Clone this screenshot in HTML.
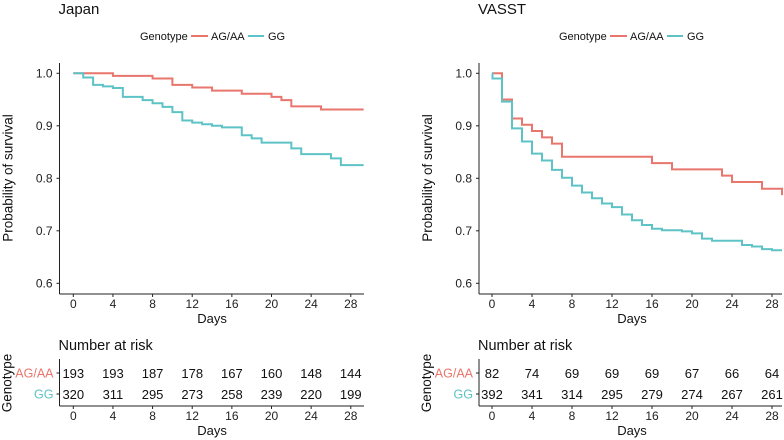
<!DOCTYPE html>
<html><head><meta charset="utf-8"><style>
html,body{margin:0;padding:0;background:#fff;}
svg{display:block;font-family:"Liberation Sans",Arial,sans-serif;}
</style></head><body>
<svg id="chart" width="784" height="440" viewBox="0 0 784 440" xmlns="http://www.w3.org/2000/svg"></svg>
<script>
const ticks = [0,4,8,12,16,20,24,28];
const yTicks = [0.6,0.7,0.8,0.9,1.0];
const yTickLabels = ["0.6","0.7","0.8","0.9","1.0"];
const groups = ["AG/AA","GG"];
const japanAgTimes = [0,4,8,10,12,14,17,20,21,22,25,29.3];
const japanAgSurv  = [1.0,0.995,0.990,0.978,0.973,0.967,0.961,0.955,0.949,0.937,0.931,0.931];
const japanGgTimes = [0,1,2,3,4,5,7,8,9,10,11,12,13,14,15,17,18,19,22,23,26,27,29.3];
const japanGgSurv  = [1.0,0.992,0.978,0.975,0.972,0.955,0.949,0.943,0.936,0.926,0.910,0.906,0.903,0.900,0.897,0.882,0.876,0.868,0.857,0.846,0.838,0.825,0.825];
const vasstAgTimes = [0,1,2,3,4,5,6,7,16,18,23,24,27,29,29];
const vasstAgSurv  = [1.0,0.950,0.914,0.902,0.890,0.878,0.866,0.841,0.829,0.817,0.805,0.793,0.780,0.768,0.768];
const vasstGgTimes = [0,0.05,1,2,3,4,5,6,7,8,9,10,11,12,13,14,15,16,17,19,20,21,22,25,26,27,28,29];
const vasstGgSurv  = [1.0,0.990,0.946,0.895,0.870,0.847,0.834,0.816,0.801,0.786,0.773,0.762,0.752,0.745,0.731,0.720,0.711,0.704,0.701,0.699,0.695,0.685,0.681,0.673,0.670,0.665,0.663,0.663];
const japanRiskAg = [193,193,187,178,167,160,148,144];
const japanRiskGg = [320,311,295,273,258,239,220,199];
const vasstRiskAg = [82,74,69,69,69,67,66,64];
const vasstRiskGg = [392,341,314,295,279,274,267,261];

const RED="#e8766d", TEAL="#5ec3c6";
const svg=document.getElementById('chart');
const NS="http://www.w3.org/2000/svg";
function mk(tag,attrs,parent,text){const e=document.createElementNS(NS,tag);for(const k in attrs)e.setAttribute(k,attrs[k]);if(text!==undefined)e.textContent=text;(parent||svg).appendChild(e);return e;}

function panel(ox,axisX,x0,pxPerDay,xEnd,title,legX,agT,agS,ggT,ggS,riskAg,riskGg,key){
  const g=mk('g',{},svg);
  
  
  const xs=d=>x0+d*pxPerDay;
  const ys=v=>73.3+(1-v)*525;
  const t=mk('text',{x:axisX-1,y:14,'font-size':15,fill:'#111'},g,title);
  
  
  const lg=mk('g',{},g);
  
  
  mk('text',{x:legX,y:40,'font-size':11,fill:'#111'},lg,'Genotype');
  const e1=mk('g',{},lg);
  
  
  mk('line',{x1:legX+51,x2:legX+68,y1:36,y2:36,stroke:RED,'stroke-width':2},e1);
  mk('text',{x:legX+71,y:40,'font-size':11,fill:'#111'},e1,'AG/AA');
  const e2=mk('g',{},lg);
  
  
  mk('line',{x1:legX+108,x2:legX+124,y1:36,y2:36,stroke:TEAL,'stroke-width':2},e2);
  mk('text',{x:legX+128,y:40,'font-size':11,fill:'#111'},e2,'GG');
  mk('line',{x1:axisX,x2:axisX,y1:63,y2:294,stroke:'#222','stroke-width':1},g);
  mk('line',{x1:axisX,x2:xEnd,y1:294,y2:294,stroke:'#222','stroke-width':1},g);
  yTicks.forEach((v,i)=>{
    mk('line',{x1:axisX-3,x2:axisX,y1:ys(v),y2:ys(v),stroke:'#222'},g);
    const tl=mk('text',{x:axisX-7,y:ys(v)+4,'font-size':12,'text-anchor':'end',fill:'#222'},g,yTickLabels[i]);
    
    
  });
  const yt=mk('text',{x:0,y:0,'font-size':13.5,'text-anchor':'middle',fill:'#111',transform:`translate(${axisX-47},178) rotate(-90)`},g,'Probability of survival');
  
  
  ticks.forEach(d=>{
    mk('line',{x1:xs(d),x2:xs(d),y1:294,y2:297,stroke:'#222'},g);
    mk('text',{x:xs(d),y:308,'font-size':12,'text-anchor':'middle',fill:'#222'},g,String(d));
  });
  const xt=mk('text',{x:xs(14),y:323,'font-size':13,'text-anchor':'middle',fill:'#111'},g,'Days');
  
  
  function curve(T,S,col,name){
    let d=`M${xs(T[0])},${ys(S[0])}`;
    for(let i=1;i<T.length;i++){d+=` H${xs(T[i])} V${ys(S[i])}`;}
    const p=mk('path',{d:d,fill:'none',stroke:col,'stroke-width':2},g);
    
    
  }
  curve(agT,agS,RED,key+'-agaa-curve');
  curve(ggT,ggS,TEAL,key+'-gg-curve');
  const rt=mk('text',{x:axisX-1,y:350,'font-size':14.5,fill:'#111'},g,'Number at risk');
  
  
  mk('line',{x1:axisX,x2:axisX,y1:359,y2:406,stroke:'#222'},g);
  mk('line',{x1:axisX,x2:xEnd,y1:406,y2:406,stroke:'#222'},g);
  const rowY=[373,394];
  const rowCol=[RED,TEAL];
  [riskAg,riskGg].forEach((row,r)=>{
    mk('line',{x1:axisX-3,x2:axisX,y1:rowY[r],y2:rowY[r],stroke:'#222'},g);
    const lab=mk('text',{x:axisX-6,y:rowY[r]+4.5,'font-size':12.5,'text-anchor':'end',fill:rowCol[r]},g,groups[r]);
    
    
    row.forEach((n,i)=>{
      const c=mk('text',{x:xs(ticks[i]),y:rowY[r]+5,'font-size':13,'text-anchor':'middle',fill:'#111'},g,String(n));
      
      
    });
  });
  const gy=mk('text',{x:0,y:0,'font-size':13.5,'text-anchor':'middle',fill:'#111',transform:`translate(${axisX-48},383) rotate(-90)`},g,'Genotype');
  
  
  ticks.forEach(d=>{
    mk('line',{x1:xs(d),x2:xs(d),y1:406,y2:409,stroke:'#222'},g);
    mk('text',{x:xs(d),y:420,'font-size':12,'text-anchor':'middle',fill:'#222'},g,String(d));
  });
  mk('text',{x:xs(14),y:435,'font-size':13,'text-anchor':'middle',fill:'#111'},g,'Days');
}
panel(0,59.5,73.3,9.91,364,'Japan',140,japanAgTimes,japanAgSurv,japanGgTimes,japanGgSurv,japanRiskAg,japanRiskGg,'japan');
panel(392,479,492,10,782,'VASST',559,vasstAgTimes,vasstAgSurv,vasstGgTimes,vasstGgSurv,vasstRiskAg,vasstRiskGg,'vasst');
</script>
</body></html>
